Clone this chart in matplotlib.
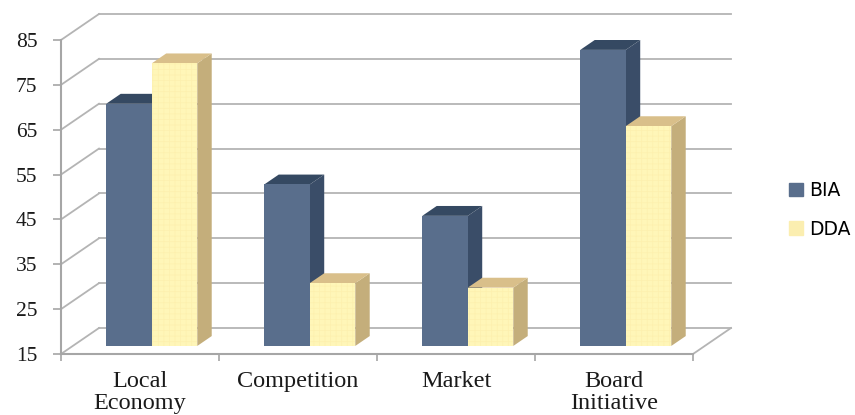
import matplotlib
matplotlib.use("Agg")
import numpy as np
import matplotlib.pyplot as plt
from matplotlib.patches import Polygon, Patch
from matplotlib.transforms import Affine2D

categories = ["Local\nEconomy", "Competition", "Market", "Board\nInitiative"]
bia = [69, 51, 44, 81]
dda = [78, 29, 28, 64]
yticks = [15, 25, 35, 45, 55, 65, 75, 85]

BLUE = "#596e8c"
BLUE_SIDE = "#3a4d68"
BLUE_TOP = "#354962"
YELLOW = "#fff6b8"
YELLOW_SIDE = "#c4ae7b"
YELLOW_TOP = "#d9bf8a"
GRID = "#b4b4b4"

# pixel offset of the back wall from the front plane
DEPTH_X = 38
DEPTH_Y = 26
BAR_W = 0.288

plt.rcParams["hatch.linewidth"] = 0.5


def shift(d):
    return ax.transData + Affine2D().translate(d * DEPTH_X, d * DEPTH_Y)


def to_inches(t, x, y):
    return fig.dpi_scale_trans.inverted().transform(t.transform((x, y)))


def line3d(t0, a, t1, b):
    p, q = to_inches(t0, *a), to_inches(t1, *b)
    ax.plot([p[0], q[0]], [p[1], q[1]], color=GRID, lw=1.3,
            transform=fig.dpi_scale_trans, clip_on=False, zorder=1)


def bar3d(x, val, color, side, top, hatch=None):
    t0 = shift(0.31)
    t1 = shift(0.69)
    x1 = x + BAR_W
    tr = fig.dpi_scale_trans
    ax.add_patch(Polygon([to_inches(t0, x1, 15), to_inches(t1, x1, 15), to_inches(t1, x1, val), to_inches(t0, x1, val)],
                         closed=True, fc=side, ec="none", transform=tr, clip_on=False, zorder=3))
    ax.add_patch(Polygon([to_inches(t0, x, val), to_inches(t0, x1, val), to_inches(t1, x1, val), to_inches(t1, x, val)],
                         closed=True, fc=top, ec="none", transform=tr, clip_on=False, zorder=3))
    ax.bar(x, val - 15, BAR_W, bottom=15, align="edge", color=color, hatch=hatch,
           edgecolor="#fdf0ae" if hatch else color, linewidth=0,
           transform=t0, clip_on=False, zorder=3)


fig = plt.figure(figsize=(8.55, 4.15), dpi=100)
ax = fig.add_axes([61 / 855, 1 - 354 / 415, 632 / 855, 314 / 415])
ax.set_xlim(0, 4)
ax.set_ylim(15, 85)

# back wall and left wall lines
back = shift(1)
for y in yticks:
    ax.plot([0, 4], [y, y], color=GRID, lw=1.3, transform=back, clip_on=False, zorder=1)
    line3d(back, (0, y), ax.transData, (0, y))
# right edge of the floor
line3d(back, (4, 15), ax.transData, (4, 15))

for i in range(len(categories)):
    left = i + 0.5 - BAR_W
    bar3d(left, bia[i], BLUE, BLUE_SIDE, BLUE_TOP)
    bar3d(left + BAR_W, dda[i], YELLOW, YELLOW_SIDE, YELLOW_TOP, hatch="+++")

for s in ["top", "right"]:
    ax.spines[s].set_visible(False)
for s in ["left", "bottom"]:
    ax.spines[s].set_color("#a6a6a6")
    ax.spines[s].set_linewidth(1.5)
ax.patch.set_visible(False)

ax.set_yticks(yticks)
ax.set_yticklabels([str(y) for y in yticks], family="Liberation Serif", fontsize=15.5, color="#1a1a1a")
ax.tick_params(axis="y", length=6, width=1.2, color="#a6a6a6", pad=11)
ax.set_xticks(range(5))
ax.set_xticklabels([])
ax.tick_params(axis="x", which="major", length=5, width=1.2, color="#a6a6a6")
ax.set_xticks(np.arange(4) + 0.5, minor=True)
ax.set_xticklabels(categories, minor=True, family="Liberation Serif", fontsize=17.5,
                   color="#1a1a1a", linespacing=1.08)
ax.tick_params(axis="x", which="minor", length=0, pad=12)

handles = [Patch(color=BLUE, label="BIA"), Patch(color="#fbeeb0", label="DDA")]
fig.legend(handles=handles, loc="center left", bbox_to_anchor=(780 / 855, 1 - 210 / 415),
           frameon=False, handlelength=0.75, handleheight=0.75, handletextpad=0.3,
           labelspacing=1.05, borderpad=0, borderaxespad=0.5,
           prop={"family": "DejaVu Sans", "size": 13.5})

fig.savefig("out.png", dpi=100)
